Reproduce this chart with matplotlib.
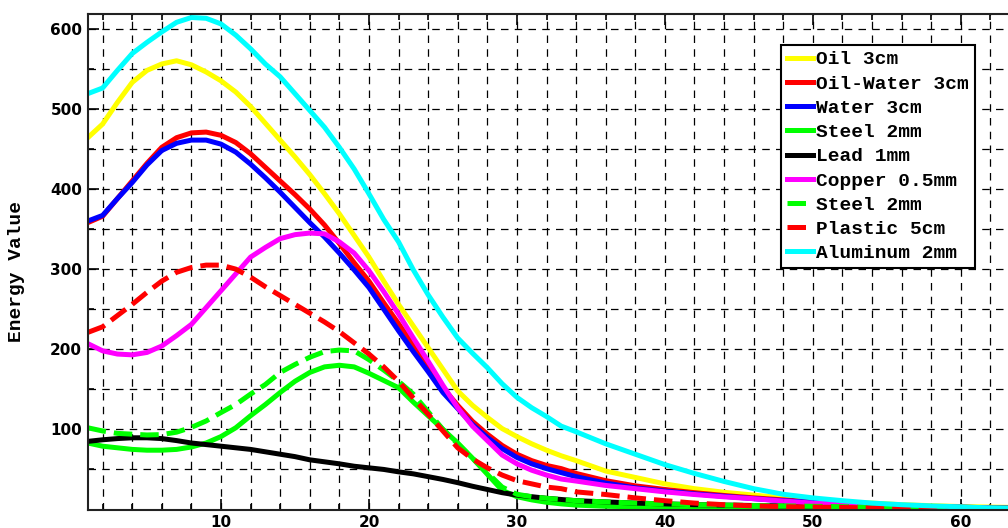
import matplotlib
matplotlib.use("Agg")
import matplotlib.pyplot as plt
from matplotlib.ticker import MultipleLocator, FixedLocator

x = list(range(1, 34)) + list(range(34, 65, 2))

oil = [464, 481, 508, 533, 548, 556, 560, 555, 546, 535, 521, 503, 482, 461, 440, 418, 394,
       369, 342, 315, 285, 256, 229, 202, 175, 148, 130, 115, 101, 91, 82, 74, 67,
       61, 48, 40, 32, 26, 21.5, 18, 14.5, 12, 9.5, 8, 6, 4.8, 3.7, 3, 2.5]
oil_water = [358, 366, 388, 410, 432, 452, 464, 470, 471, 467, 458, 444, 427, 410, 393, 375, 355,
             332, 308, 285, 258, 232, 205, 179, 152, 130, 110, 94, 80, 69, 61, 55, 51,
             45, 36, 29.5, 25, 21, 17.5, 14.5, 12, 9.5, 8, 6, 4.8, 3.7, 3, 2, 1.5]
water = [360, 367, 388, 408, 430, 448, 457, 461, 461, 456, 446, 431, 414, 396, 377, 358, 340,
         320, 299, 277, 250, 223, 197, 172, 146, 126, 106, 90, 76, 65, 57, 51, 46,
         41, 33, 27, 23, 19.5, 16.5, 13.5, 11, 9, 7.5, 6, 4.6, 3.5, 2.8, 2, 1.5]
steel = [83, 79, 77, 75, 74, 74, 75, 78, 83, 91, 102, 117, 131, 146, 160, 171, 178,
         180, 178, 170, 161, 152, 134, 117, 100, 83, 64, 44, 24, 16, 12, 9, 7,
         5.5, 4, 3.5, 3, 2.5, 2.2, 2, 1.8, 1.7, 1.6, 1.5, 1.4, 1.3, 1.2, 1.1, 1]
lead = [85, 87, 88.5, 89.5, 89.5, 88.5, 86, 83, 81, 79, 77, 75, 72, 69, 66, 62, 59.5,
        57, 54, 52, 50, 47, 44.5, 41, 37.5, 33.5, 29, 25, 21, 18, 16, 14, 12.5,
        11, 9.5, 8, 7, 6, 5.5, 5, 4.5, 4, 3.5, 3, 2.8, 2.5, 2, 1.8, 1.5]
copper = [207, 198, 194, 193, 196, 204, 217, 231, 252, 273, 294, 315, 327, 338, 343, 345, 344,
          334, 320, 298, 272, 244, 214, 185, 155, 127, 104, 86, 68, 57, 49, 43, 38,
          35.5, 30, 26, 22, 18.7, 15.8, 13.5, 10.5, 8, 6.5, 5, 4, 3, 2.5, 2, 1.5]
steel_dash = [102, 98, 95, 94, 93, 93.5, 96.5, 102.5, 110.5, 121, 131, 144, 156, 171, 181, 190, 197,
              199, 198, 187, 174, 160, 144, 122, 100, 82, 64, 46, 28, 19, 16, 14, 12.5,
              11, 9.5, 8, 7, 6, 5.5, 5, 4.5, 4, 3.5, 3, 2.8, 2.5, 2, 1.8, 1.5]
plastic = [221, 228, 242, 256, 271, 285, 296, 302, 305, 305, 300, 290, 278, 267, 256, 245, 234,
           222, 208, 194, 178, 160, 139, 119, 98, 77, 63, 52, 43, 36, 32, 28, 26,
           22, 18.7, 14.5, 11, 8, 6, 4.5, 3.5, 3, 2.5, 2, 1.8, 1.5, 1.3, 1.2, 1]
aluminum = [519, 526, 548, 569, 583, 596, 608, 614, 613, 606, 592, 575, 556, 540, 519, 498, 477,
            452, 425, 394, 362, 334, 299, 268, 240, 214, 195, 177, 157, 140, 127, 116, 104,
            97, 82, 69, 56, 45, 35, 26, 19, 14.5, 11, 8, 6, 4.5, 3.3, 2, 1.5]

series = [
    ("Oil 3cm", oil, "#FFFF00", "-"),
    ("Oil-Water 3cm", oil_water, "#FF0000", "-"),
    ("Water 3cm", water, "#0000FF", "-"),
    ("Steel 2mm", steel, "#00FF00", "-"),
    ("Lead 1mm", lead, "#000000", "-"),
    ("Copper 0.5mm", copper, "#FF00FF", "-"),
    ("Steel 2mm", steel_dash, "#00FF00", "--"),
    ("Plastic 5cm", plastic, "#FF0000", "--"),
    ("Aluminum 2mm", aluminum, "#00FFFF", "-"),
]

W, H = 1008, 528
fig = plt.figure(figsize=(W / 100, H / 100), dpi=100)
left_px, right_px, top_px, bot_px = 87.8, 1020.0, 14.3, 509.5
ax = fig.add_axes([left_px / W, (H - bot_px) / H, (right_px - left_px) / W, (bot_px - top_px) / H])

for label, vals, color, ls in series:
    ax.plot(x, vals, color=color, linestyle=ls, linewidth=3.6, label=label,
            solid_joinstyle="round", dash_capstyle="butt")

ax.set_xlim(1, 64)
ax.set_ylim(0, 618)
ax.xaxis.set_major_locator(FixedLocator([10, 20, 30, 40, 50, 60]))
ax.xaxis.set_minor_locator(MultipleLocator(2))
ax.yaxis.set_major_locator(FixedLocator([100, 200, 300, 400, 500, 600]))
ax.yaxis.set_minor_locator(MultipleLocator(50))

ax.grid(True, which="both", linestyle=(0, (6, 5)), color="black", linewidth=0.9)
ax.set_axisbelow(True)

ax.tick_params(which="both", direction="in", top=True, right=True, width=1.2)
ax.tick_params(which="major", length=8, labelsize=11, pad=4)
ax.tick_params(which="minor", length=4)
for lab in ax.get_xticklabels() + ax.get_yticklabels():
    lab.set_fontweight("bold")
    lab.set_family("DejaVu Sans")

for s in ax.spines.values():
    s.set_linewidth(1.5)
    s.set_color("#222222")

leg = ax.legend(loc="upper right", bbox_to_anchor=((975 - left_px) / (right_px - left_px),
                                                    (bot_px - 45) / (bot_px - top_px)),
                borderaxespad=0, fancybox=False, framealpha=1, edgecolor="black",
                prop={"family": "Liberation Mono", "weight": "bold", "size": 14},
                handlelength=1.3, handletextpad=0.2, labelspacing=0.34, borderpad=0.3)
leg.get_frame().set_linewidth(1.5)

fig.text(17 / W, (H - 272) / H, "Energy Value", rotation=90, ha="center", va="center",
         family="Liberation Mono", fontweight="bold", fontsize=14)

fig.savefig("out.png", dpi=100)
